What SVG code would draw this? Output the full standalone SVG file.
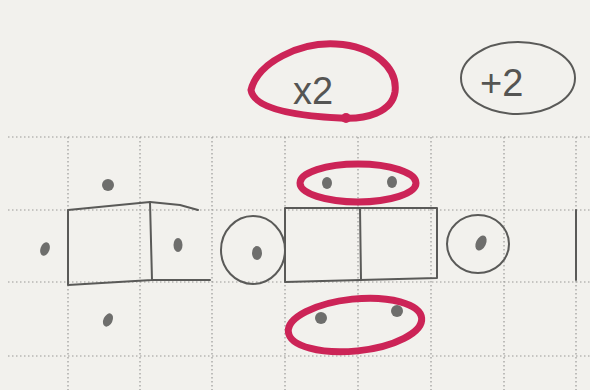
<svg xmlns="http://www.w3.org/2000/svg" width="590" height="390" viewBox="0 0 590 390">
<style>
.grid{stroke:#9a9a98;stroke-width:1.2;stroke-dasharray:1.5 2.5;fill:none}
.pen{stroke:#5a5a58;stroke-width:2;fill:none;stroke-linecap:round;stroke-linejoin:round}
.red{stroke:#cc2457;stroke-width:7;fill:none;stroke-linecap:round}
.dot{fill:#6e6e6c}
.lbl{font-family:"Liberation Sans",Arial,sans-serif;font-size:38px;fill:#555553}
</style>
<rect width="590" height="390" fill="#f2f1ed"/>
<g id="grid">
<path class="grid" d="M8 137H590M8 210H590M8 282H590M8 356H590"/>
<path class="grid" d="M68 137V390M140 137V390M212 137V390M285 137V390M358 137V390M431 137V390M504 137V390M576 137V390"/>
</g>
<g id="left-box">
<path class="pen" d="M68 210L150 202L152 280L68 285Z"/>
<path class="pen" d="M150 202L180 205L198 210M152 280L210 280"/>
</g>
<g id="circle-left">
<ellipse class="pen" cx="253" cy="250" rx="32" ry="34"/>
<ellipse class="dot" cx="257" cy="253" rx="5" ry="7"/>
</g>
<g id="middle-boxes">
<path class="pen" d="M285 208H437V278L360 280L285 282Z"/>
<path class="pen" d="M360 208L361 280"/>
</g>
<g id="circle-right">
<ellipse class="pen" cx="478" cy="244" rx="31" ry="29"/>
<ellipse class="dot" cx="481" cy="243" rx="5" ry="8" transform="rotate(25 481 243)"/>
</g>
<g id="right-line">
<path class="pen" d="M576 210V280"/>
</g>
<g id="stones">
<ellipse class="dot" cx="45" cy="249" rx="4.5" ry="7" transform="rotate(20 45 249)"/>
<ellipse class="dot" cx="108" cy="185" rx="6" ry="6"/>
<ellipse class="dot" cx="178" cy="245" rx="4.5" ry="7"/>
<ellipse class="dot" cx="108" cy="320" rx="4.5" ry="7" transform="rotate(25 108 320)"/>
<ellipse class="dot" cx="327" cy="183" rx="5" ry="6"/>
<ellipse class="dot" cx="392" cy="182" rx="5" ry="6"/>
<ellipse class="dot" cx="321" cy="318" rx="6" ry="6"/>
<ellipse class="dot" cx="397" cy="311" rx="6" ry="6"/>
</g>
<g id="red-top">
<ellipse class="red" cx="358" cy="183" rx="58" ry="19"/>
</g>
<g id="red-bottom">
<ellipse class="red" cx="355" cy="325" rx="67" ry="26" transform="rotate(-6 355 325)"/>
</g>
<g id="x2">
<path class="red" d="M251 90C258 62 300 42 336 44C374 46 398 68 395 92C392 112 366 120 340 118C300 116 254 110 251 90Z"/>
<circle cx="346" cy="118" r="5" fill="#cc2457"/>
<text class="lbl" x="293" y="104">x2</text>
</g>
<g id="plus2">
<ellipse class="pen" cx="518" cy="78" rx="57" ry="36"/>
<text class="lbl" x="480" y="96">+2</text>
</g>
</svg>
